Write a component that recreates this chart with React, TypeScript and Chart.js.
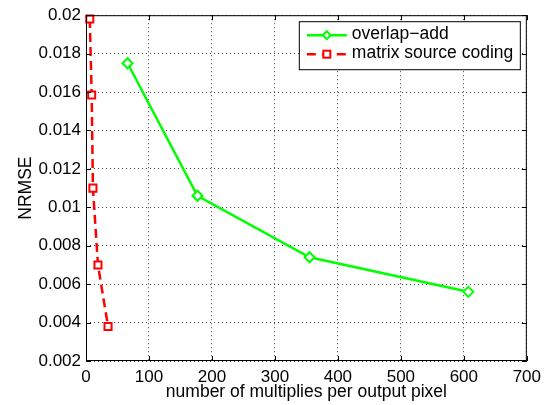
import React, { useEffect, useRef } from 'react';
import { Chart, registerables } from 'chart.js';
Chart.register(...registerables);

const seriesNames = ['overlap\u2212add', 'matrix source coding'];
const overlapAddX = [66, 177, 355, 607];
const overlapAddY = [0.0175, 0.0106, 0.0074, 0.0056];
const mscX = [6, 9, 11, 19, 35];
const mscY = [0.0198, 0.01585, 0.0110, 0.0070, 0.0038];
const xTicks = [0, 100, 200, 300, 400, 500, 600, 700];
const xTickLabels = ['0', '100', '200', '300', '400', '500', '600', '700'];
const yTicks = [0.002, 0.004, 0.006, 0.008, 0.01, 0.012, 0.014, 0.016, 0.018, 0.02];
const yTickLabels = ['0.002', '0.004', '0.006', '0.008', '0.01', '0.012', '0.014', '0.016', '0.018', '0.02'];
const xTitle = 'number of multiplies per output pixel';
const yTitle = 'NRMSE';

const FONT = "'Liberation Sans', Arial, Helvetica, sans-serif";
const GREEN = '#00ff00';
const RED = '#ff0000';

const framePlugin = {
  id: 'matlabFrame',
  afterDraw(chart: any) {
    const { ctx, chartArea, scales } = chart;
    const { left, right, top, bottom } = chartArea;
    ctx.save();
    ctx.strokeStyle = '#000';
    ctx.lineWidth = 1;
    ctx.setLineDash([]);
    ctx.strokeRect(left + 0.5, top + 0.5, right - left - 1, bottom - top - 1);
    const tl = 5;
    ctx.beginPath();
    xTicks.forEach((v) => {
      const px = Math.round(scales.x.getPixelForValue(v)) + 0.5;
      ctx.moveTo(px, bottom);
      ctx.lineTo(px, bottom - tl);
      ctx.moveTo(px, top);
      ctx.lineTo(px, top + tl);
    });
    yTicks.forEach((v) => {
      const py = Math.round(scales.y.getPixelForValue(v)) + 0.5;
      ctx.moveTo(left, py);
      ctx.lineTo(left + tl, py);
      ctx.moveTo(right, py);
      ctx.lineTo(right - tl, py);
    });
    ctx.stroke();

    // legend
    const bx = right - 228;
    const by = top + 6;
    const bw = 221;
    const bh = 48;
    ctx.fillStyle = '#fff';
    ctx.fillRect(bx, by, bw, bh);
    ctx.strokeStyle = '#000';
    ctx.strokeRect(bx + 0.5, by + 0.5, bw, bh);
    const rows = [by + 14, by + 33];
    const x0 = bx + 8;
    const x1 = bx + 48;
    const xm = (x0 + x1) / 2;
    // green row
    ctx.strokeStyle = GREEN;
    ctx.lineWidth = 2.5;
    ctx.beginPath();
    ctx.moveTo(x0, rows[0]);
    ctx.lineTo(x1, rows[0]);
    ctx.stroke();
    ctx.fillStyle = '#fff';
    ctx.lineWidth = 2;
    ctx.beginPath();
    ctx.moveTo(xm - 4, rows[0]);
    ctx.lineTo(xm, rows[0] - 4);
    ctx.lineTo(xm + 4, rows[0]);
    ctx.lineTo(xm, rows[0] + 4);
    ctx.closePath();
    ctx.fill();
    ctx.stroke();
    // red row
    ctx.strokeStyle = RED;
    ctx.lineWidth = 2.5;
    ctx.setLineDash([9, 6]);
    ctx.beginPath();
    ctx.moveTo(x0, rows[1]);
    ctx.lineTo(x1, rows[1]);
    ctx.stroke();
    ctx.setLineDash([]);
    ctx.lineWidth = 2;
    ctx.fillStyle = '#fff';
    ctx.fillRect(xm - 4, rows[1] - 4, 8, 8);
    ctx.strokeRect(xm - 3.5, rows[1] - 3.5, 7, 7);
    ctx.fillStyle = '#000';
    ctx.font = `17.5px ${FONT}`;
    ctx.textBaseline = 'middle';
    ctx.textAlign = 'left';
    ctx.fillText(seriesNames[0], bx + 53, rows[0] - 1.5);
    ctx.fillText(seriesNames[1], bx + 53, rows[1] - 1.5);
    ctx.restore();
  },
};

export default function App() {
  const ref = useRef<HTMLCanvasElement | null>(null);
  useEffect(() => {
    if (!ref.current) return;
    const chart = new Chart(ref.current, {
      type: 'scatter',
      data: {
        datasets: [
          {
            label: seriesNames[0],
            data: overlapAddX.map((x, i) => ({ x, y: overlapAddY[i] })),
            showLine: true,
            borderColor: GREEN,
            backgroundColor: '#fff',
            borderWidth: 2.5,
            pointStyle: 'rectRot',
            pointRadius: 5,
            pointBorderWidth: 2,
            pointBorderColor: GREEN,
            pointBackgroundColor: '#fff',
            clip: false as any,
          },
          {
            label: seriesNames[1],
            data: mscX.map((x, i) => ({ x, y: mscY[i] })),
            showLine: true,
            borderColor: RED,
            backgroundColor: '#fff',
            borderWidth: 2.5,
            borderDash: [9, 5],
            pointStyle: 'rect',
            pointRadius: 5,
            pointBorderWidth: 2,
            pointBorderColor: RED,
            pointBackgroundColor: '#fff',
            clip: false as any,
          },
        ],
      },
      options: {
        animation: false,
        responsive: false,
        maintainAspectRatio: false,
        layout: { padding: { top: 13, right: 20, left: 0, bottom: 0 } },
        plugins: { legend: { display: false }, tooltip: { enabled: false } },
        scales: {
          x: {
            type: 'linear',
            min: 0,
            max: 700,
            afterBuildTicks: (s: any) => {
              s.ticks = xTicks.map((v) => ({ value: v }));
            },
            afterFit: (s: any) => {
              s.height = 44;
            },
            ticks: {
              color: '#000',
              font: { family: FONT, size: 17 },
              padding: 6,
              maxRotation: 0,
              autoSkip: false,
              callback: (_v: any, i: number) => xTickLabels[i],
            },
            grid: { color: '#444', lineWidth: 1, drawTicks: false },
            border: { display: false, dash: [1, 3] },
            title: {
              display: true,
              text: xTitle,
              color: '#000',
              font: { family: FONT, size: 17.5 },
              padding: { top: 0, bottom: 2.5 },
            },
          },
          y: {
            type: 'linear',
            min: 0.002,
            max: 0.02,
            afterBuildTicks: (s: any) => {
              s.ticks = yTicks.map((v) => ({ value: v }));
            },
            afterFit: (s: any) => {
              s.width = 86;
            },
            ticks: {
              color: '#000',
              font: { family: FONT, size: 17 },
              padding: 5,
              autoSkip: false,
              callback: (_v: any, i: number) => yTickLabels[i],
            },
            grid: { color: '#444', lineWidth: 1, drawTicks: false },
            border: { display: false, dash: [1, 3] },
            title: {
              display: true,
              text: yTitle,
              color: '#000',
              font: { family: FONT, size: 17.5 },
              padding: { top: 15.5, bottom: 0 },
            },
          },
        },
      },
      plugins: [framePlugin],
    });
    return () => chart.destroy();
  }, []);
  return (
    <div style={{ position: 'absolute', left: 0, top: 0, width: 547, height: 405, background: '#fff' }}>
      <canvas ref={ref} width={547} height={405} style={{ width: 547, height: 405 }} />
    </div>
  );
}
